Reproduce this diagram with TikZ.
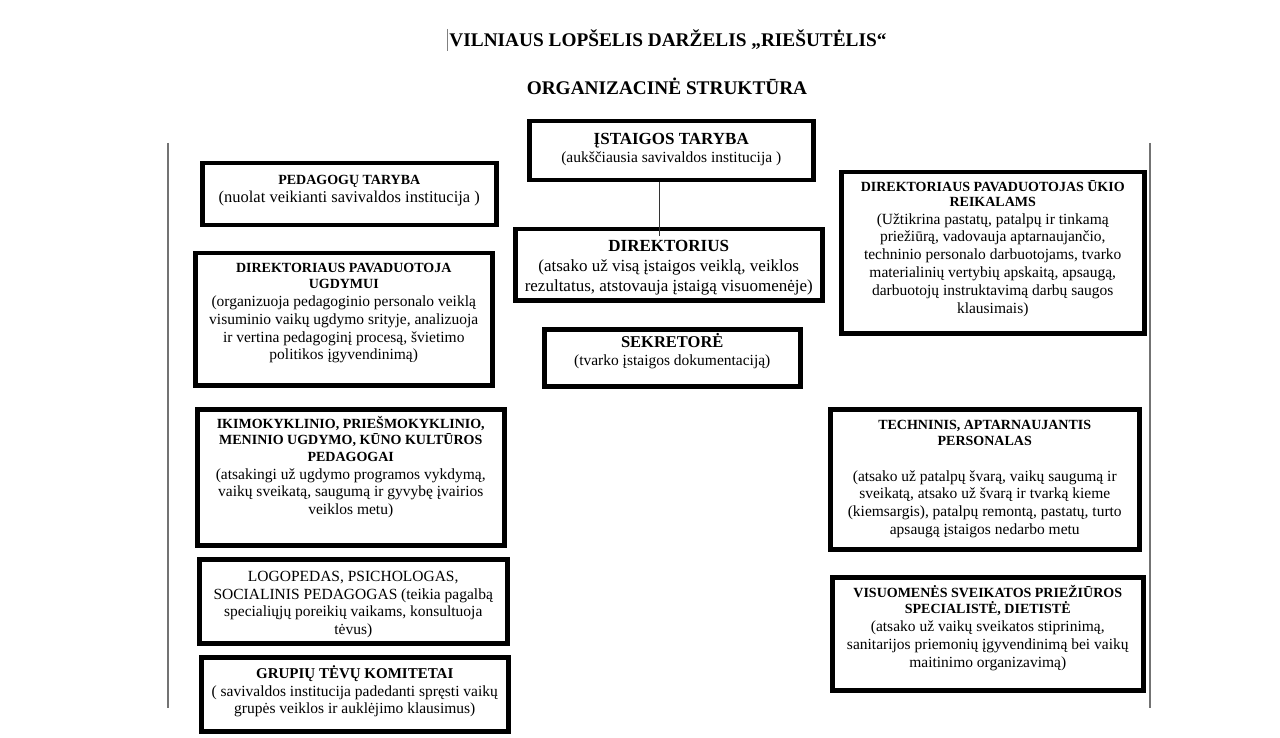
\documentclass[tikz,border=0pt]{standalone}
\usepackage{fontspec}
\setmainfont{Liberation Serif}
\newcommand{\bodyfont}{\fontsize{15.5}{17.8}\selectfont}
\newcommand{\hd}[2][14]{{\bfseries\fontsize{#1}{16.5}\selectfont #2\par}}
\newcommand{\bxc}[4]{\begin{minipage}[c][#2][t]{#1}\centering\bodyfont\rule{0pt}{#3}#4\end{minipage}}
\tikzset{
  obox/.style={draw, line width=4.5pt, inner sep=0pt, anchor=north west},
  conn/.style={draw=black!80, line width=1pt},
  side/.style={draw=black!55, line width=2pt},
  ttl/.style={font=\bfseries\fontsize{19.3}{22}\selectfont, inner sep=0pt}
}
\begin{document}
\begin{tikzpicture}[x=1pt,y=-1pt]
\useasboundingbox (0,0) rectangle (1280,738);
\fill[white] (0,0) rectangle (1280,738);

% titles
\node[ttl] (t1) at (668,40) {VILNIAUS LOPŠELIS DARŽELIS „RIEŠUTĖLIS“};
\node[ttl] (t2) at (667,86) {ORGANIZACINĖ STRUKTŪRA};
\draw[black!50, line width=1pt] (447,29) -- (447,51);

% side lines
\draw[side] (168,143) -- (168,708);
\draw[side] (1150,143) -- (1150,708);

% centre column
\node[obox] (ist) at (527,119) {\bxc{284pt}{59pt}{23pt}{\hd[17]{ĮSTAIGOS TARYBA}(aukščiausia savivaldos institucija )}};
\node[obox] (dir) at (513,227) {\begin{minipage}[c][71pt][t]{307pt}\centering\fontsize{17}{20}\selectfont\rule{0pt}{22pt}\textbf{DIREKTORIUS}\\(atsako už visą įstaigos veiklą, veiklos\\rezultatus, atstovauja įstaigą visuomenėje)\end{minipage}};
\node[obox] (sek) at (542,327) {\bxc{256pt}{57pt}{18pt}{\hd[16.5]{SEKRETORĖ}(tvarko įstaigos dokumentaciją)}};

% left column
\node[obox] (ped) at (200,161) {\bxc{294pt}{62pt}{21pt}{\hd[14]{PEDAGOGŲ TARYBA}{\fontsize{16.5}{18}\selectfont(nuolat veikianti savivaldos institucija )}}};
\node[obox] (dpu) at (193,251) {\bxc{297pt}{132pt}{19pt}{\hd{DIREKTORIAUS PAVADUOTOJA\\UGDYMUI}(organizuoja pedagoginio personalo veiklą\\visuminio vaikų ugdymo srityje, analizuoja\\ir vertina pedagoginį procesą, švietimo\\politikos įgyvendinimą)}};
\node[obox] (iki) at (195,407) {\bxc{307pt}{136pt}{19pt}{\hd{IKIMOKYKLINIO, PRIEŠMOKYKLINIO,\\MENINIO UGDYMO, KŪNO KULTŪROS\\PEDAGOGAI}(atsakingi už ugdymo programos vykdymą,\\vaikų sveikatą, saugumą ir gyvybę įvairios\\veiklos metu)}};
\node[obox] (logo) at (197,557) {\bxc{308pt}{84pt}{22pt}{LOGOPEDAS, PSICHOLOGAS,\\SOCIALINIS PEDAGOGAS (teikia pagalbą\\specialiųjų poreikių vaikams, konsultuoja\\tėvus)}};
\node[obox] (gru) at (199,655) {\bxc{307pt}{74pt}{21pt}{\hd[15]{GRUPIŲ TĖVŲ KOMITETAI}( savivaldos institucija padedanti spręsti vaikų\\grupės veiklos ir auklėjimo klausimus)}};

% right column
\node[obox] (duk) at (839,170) {\bxc{303pt}{161pt}{19pt}{{\bfseries\fontsize{14}{15}\selectfont DIREKTORIAUS PAVADUOTOJAS ŪKIO\\REIKALAMS\par}(Užtikrina pastatų, patalpų ir tinkamą\\priežiūrą, vadovauja aptarnaujančio,\\techninio personalo darbuotojams, tvarko\\materialinių vertybių apskaitą, apsaugą,\\darbuotojų instruktavimą darbų saugos\\klausimais)}};
\node[obox] (tech) at (828,407) {\bxc{309pt}{140pt}{20pt}{\hd{TECHNINIS, APTARNAUJANTIS\\PERSONALAS}\vspace{17.5pt}(atsako už patalpų švarą, vaikų saugumą ir\\sveikatą, atsako už švarą ir tvarką kieme\\(kiemsargis), patalpų remontą, pastatų, turto\\apsaugą įstaigos nedarbo metu}};
\node[obox] (vis) at (830,575) {\bxc{311pt}{113pt}{20pt}{\hd{VISUOMENĖS SVEIKATOS PRIEŽIŪROS\\SPECIALISTĖ, DIETISTĖ}(atsako už vaikų sveikatos stiprinimą,\\sanitarijos priemonių įgyvendinimą bei vaikų\\maitinimo organizavimą)}};

% connector
\coordinate (dirin) at (659,236);
\draw[conn] (dirin |- ist.south) -- (dirin);
\end{tikzpicture}
\end{document}
